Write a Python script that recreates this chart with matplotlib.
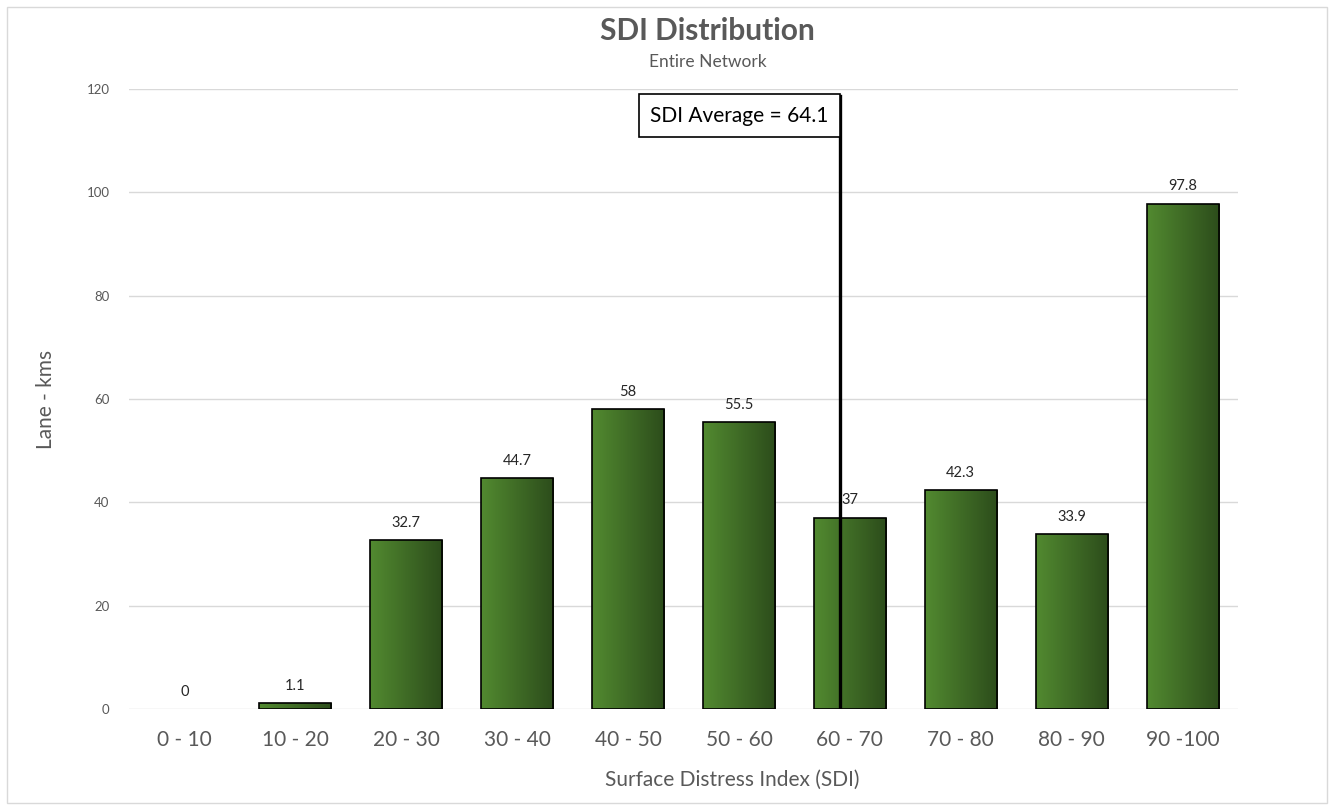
import numpy as np
import matplotlib.pyplot as plt
from matplotlib.colors import LinearSegmentedColormap
from matplotlib.patches import Rectangle

plt.rcParams['font.family'] = ['Lato', 'DejaVu Sans']

# donnees
categories = ['0 - 10', '10 - 20', '20 - 30', '30 - 40', '40 - 50',
              '50 - 60', '60 - 70', '70 - 80', '80 - 90', '90 -100']
valeurs = [0, 1.1, 32.7, 44.7, 58, 55.5, 37, 42.3, 33.9, 97.8]
etiquettes = ['0', '1.1', '32.7', '44.7', '58', '55.5', '37', '42.3', '33.9', '97.8']
moyenne = 64.1
yticks = [0, 20, 40, 60, 80, 100, 120]

gris = '#595959'
cmap = LinearSegmentedColormap.from_list('vert', ['#528a30', '#2c4c1b'])

fig = plt.figure(figsize=(13.31, 8.05), dpi=100)
ax = fig.add_axes([129/1331, 1 - 709/805, (1238-129)/1331, (709-89)/805])

x = np.arange(len(categories))
lw = [1.2 if v > 0 else 0 for v in valeurs]
barres = ax.bar(x, valeurs, width=0.65, color='none', edgecolor='black', linewidth=lw, zorder=3)
grad = np.linspace(0, 1, 256).reshape(1, -1)
for b in barres:
    if b.get_height() <= 0:
        continue
    im = ax.imshow(grad, cmap=cmap, aspect='auto', zorder=2,
                   extent=[b.get_x(), b.get_x() + b.get_width(), 0, b.get_height()])
    im.set_clip_path(b)

for xi, v, t in zip(x, valeurs, etiquettes):
    ax.text(xi, v + 2, t, ha='center', va='bottom', fontsize=10.5, color='#262626')

ax.set_xlim(-0.5, len(categories) - 0.5)
ax.set_ylim(0, 120)
ax.set_yticks(yticks)
ax.yaxis.grid(True, color='#d9d9d9', linewidth=1, zorder=0)
ax.set_axisbelow(True)
for s in ax.spines.values():
    s.set_visible(False)
ax.tick_params(axis='both', length=0)
ax.tick_params(axis='y', labelsize=9.5, labelcolor=gris, pad=14)
ax.tick_params(axis='x', labelsize=15, labelcolor=gris, pad=15)
ax.set_xticks(x)
ax.set_xticklabels(categories)
ax.set_ylabel('Lane - kms', fontsize=15, color=gris, labelpad=22)
fig.text(732/1331, 1 - 780/805, 'Surface Distress Index (SDI)', ha='center', va='center',
         fontsize=15, color=gris)

# ligne de la moyenne
xm = moyenne / 10 - 0.5
ax.plot([xm, xm], [0, 118.6], color='black', linewidth=2.4, zorder=5)
ax.text(xm - 0.1, 114.8, 'SDI Average = 64.1', ha='right', va='center', fontsize=15,
        color='black', zorder=6,
        bbox=dict(boxstyle='square,pad=0.55', facecolor='white', edgecolor='black', linewidth=1.2))

fig.text(707/1331, 1 - 31/805, 'SDI Distribution', ha='center', va='center', fontsize=21.5,
         fontweight='bold', color=gris)
fig.text(708/1331, 1 - 62/805, 'Entire Network', ha='center', va='center', fontsize=12.5, color=gris)

fig.patches.append(Rectangle((7/1331, 2/805), 1320/1331, 796/805, transform=fig.transFigure,
                             fill=False, edgecolor='#d9d9d9', linewidth=1))

fig.savefig('out.png', dpi=100)
